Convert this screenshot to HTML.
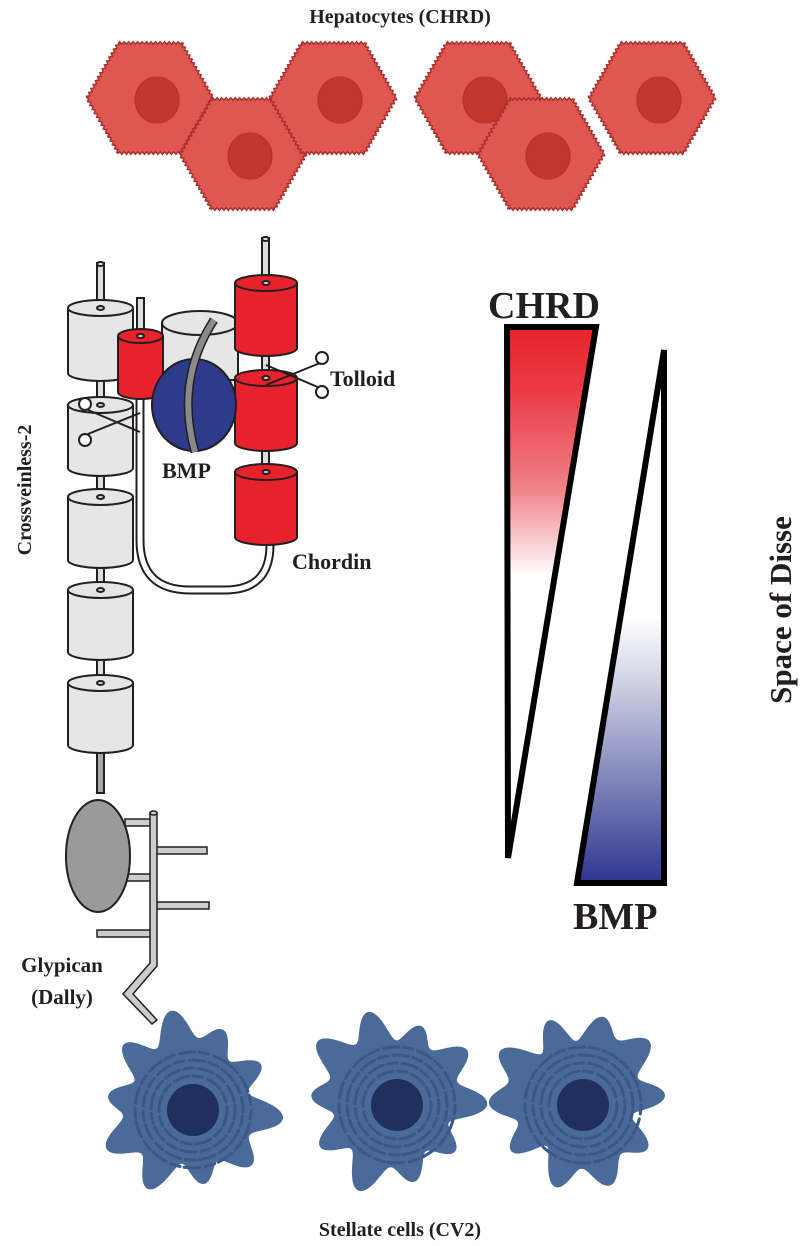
<!DOCTYPE html>
<html><head><meta charset="utf-8"><style>
html,body{margin:0;padding:0;background:#fff}
svg{display:block}
text{font-family:"Liberation Serif",serif;font-weight:bold;fill:#231f20}
</style></head><body>
<svg id="s" width="800" height="1246" viewBox="0 0 800 1246" xmlns="http://www.w3.org/2000/svg">
<defs>
<linearGradient id="gr" x1="0" y1="0" x2="0" y2="1">
<stop offset="0" stop-color="#e8222c"/><stop offset="0.12" stop-color="#ea3b45"/><stop offset="0.3" stop-color="#f07f87"/><stop offset="0.47" stop-color="#fff"/><stop offset="1" stop-color="#fff"/></linearGradient>
<linearGradient id="gb" x1="0" y1="0" x2="0" y2="1">
<stop offset="0" stop-color="#fff"/><stop offset="0.5" stop-color="#fff"/><stop offset="0.6" stop-color="#d8dbe9"/><stop offset="1" stop-color="#2e3590"/></linearGradient>
</defs>

<text x="400" y="23" font-size="20" text-anchor="middle">Hepatocytes (CHRD)</text>
<g id="hep" fill="#e05752" stroke="#a8302c" stroke-width="1.5"></g>

<g stroke="#231f20" stroke-width="2">
<rect x="97" y="263" width="7" height="40" fill="#ddd"/><ellipse cx="100.5" cy="264" rx="3.5" ry="2" fill="#eee"/>
<rect x="97" y="370" width="7" height="35" fill="#ddd"/>
<rect x="97" y="465" width="7" height="30" fill="#ddd"/>
<rect x="97" y="560" width="7" height="30" fill="#ddd"/>
<rect x="97" y="650" width="7" height="30" fill="#ddd"/>
<rect x="97" y="748" width="7" height="45" fill="#aaa"/>
</g>
<g id="graycyl" fill="#e6e6e6" stroke="#231f20" stroke-width="2"></g>

<g fill="#e6e6e6" stroke="#231f20" stroke-width="2">
<path d="M162 323 L162 380 L238 380 L238 323"/>
<ellipse cx="200" cy="323" rx="38" ry="12"/>
</g>
<path d="M140 395 L140 540 Q140 590 190 590 L225 590 Q270 590 270 545" fill="none" stroke="#231f20" stroke-width="9"/>
<path d="M140 395 L140 540 Q140 590 190 590 L225 590 Q270 590 270 545" fill="none" stroke="#fff" stroke-width="5"/>
<g stroke="#231f20" stroke-width="2">
<rect x="137" y="298" width="7" height="35" fill="#ddd"/>
<path d="M118 336 L118 392 A22.5 7 0 0 0 163 392 L163 336" fill="#e8222c"/>
<ellipse cx="140.5" cy="336" rx="22.5" ry="7" fill="#e8222c"/>
<ellipse cx="140.5" cy="336" rx="3.5" ry="2" fill="#ddd"/>
</g>
<g stroke="#231f20" stroke-width="2" fill="#ddd">
<rect x="262" y="238" width="7" height="45"/><ellipse cx="265.5" cy="239" rx="3.5" ry="2" fill="#eee"/>
<rect x="262" y="350" width="7" height="30"/>
<rect x="262" y="445" width="7" height="28"/>
</g>
<g id="redcyl" fill="#e8222c" stroke="#231f20" stroke-width="2"></g>
<ellipse cx="194" cy="405" rx="42" ry="46" fill="#2e3a8c" stroke="#231f20" stroke-width="2"/>
<path d="M214 320 Q175 380 195 452" fill="none" stroke="#231f20" stroke-width="9"/>
<path d="M214 320 Q175 380 195 452" fill="none" stroke="#8a8a8a" stroke-width="6"/>
<g stroke="#231f20" stroke-width="2" fill="#fff">
<line x1="266" y1="365" x2="320" y2="388"/><line x1="266" y1="385" x2="320" y2="363"/>
<circle cx="322" cy="358" r="6"/><circle cx="322" cy="392" r="6"/>
<line x1="140" y1="413" x2="88" y2="434"/><line x1="140" y1="432" x2="88" y2="410"/>
<circle cx="85" cy="404" r="6"/><circle cx="85" cy="440" r="6"/>
</g>
<text x="330" y="386" font-size="22">Tolloid</text>
<text x="162" y="478" font-size="22">BMP</text>
<text x="292" y="569" font-size="22">Chordin</text>
<text transform="translate(31,490) rotate(-90)" font-size="20" text-anchor="middle">Crossveinless-2</text>

<g stroke="#231f20" stroke-width="1.5" fill="#ccc">
<rect x="125" y="819" width="27" height="7"/>
<rect x="153" y="847" width="54" height="7"/>
<rect x="125" y="874" width="27" height="7"/>
<rect x="153" y="902" width="56" height="7"/>
<rect x="97" y="930" width="55" height="7"/>
<path d="M150 813 L157 813 L157 966 L133 994 L157 1020 L152 1024 L123 994 L150 963 Z"/>
<ellipse cx="153.5" cy="813" rx="3.5" ry="2"/>
</g>
<ellipse cx="98" cy="856" rx="32" ry="56" fill="#9a9a9a" stroke="#231f20" stroke-width="2"/>
<text x="62" y="972" font-size="21" text-anchor="middle">Glypican</text>
<text x="62" y="1004" font-size="21" text-anchor="middle">(Dally)</text>

<g id="stel"></g>
<text x="400" y="1236" font-size="20" text-anchor="middle">Stellate cells (CV2)</text>

<polygon points="507,327 596,327 508,858" fill="url(#gr)" stroke="#000" stroke-width="6"/>
<polygon points="664,350 664,883 577,883" fill="url(#gb)" stroke="#000" stroke-width="6"/>
<text x="488" y="318" font-size="38">CHRD</text>
<text x="573" y="929" font-size="38">BMP</text>
<text transform="translate(791,610) rotate(-90)" font-size="31" text-anchor="middle">Space of Disse</text>
</svg>
<script>
var NS="http://www.w3.org/2000/svg";
function el(p,t,a){var e=document.createElementNS(NS,t);for(var k in a)e.setAttribute(k,a[k]);p.appendChild(e);return e;}
function cyl(g,x,y,w,h){
  var r=w/2,ry=8;
  el(g,"path",{d:"M"+x+" "+y+" L"+x+" "+(y+h)+" A"+r+" "+ry+" 0 0 0 "+(x+w)+" "+(y+h)+" L"+(x+w)+" "+y});
  el(g,"ellipse",{cx:x+r,cy:y,rx:r,ry:ry});
  el(g,"ellipse",{cx:x+r,cy:y,rx:3.5,ry:2,fill:"#ddd"});
}
var gg=document.getElementById("graycyl");
[[308,65],[405,63],[497,63],[590,62],[683,62]].forEach(function(c){cyl(gg,68,c[0],65,c[1]);});
var rg=document.getElementById("redcyl");
[[283,65],[378,65],[472,65]].forEach(function(c){cyl(rg,235,c[0],62,c[1]);});
var hg=document.getElementById("hep");
[[150,98],[243,154],[333,98],[478,98],[541,154],[652,98]].forEach(function(c){
  var cx=c[0],cy=c[1],w=63,h=55,d="M";
  var pts=[[-w,0],[-w/2,-h],[w/2,-h],[w,0],[w/2,h],[-w/2,h]];
  for(var i=0;i<6;i++){var a=pts[i],b=pts[(i+1)%6];
    var len=Math.hypot(b[0]-a[0],b[1]-a[1]),nx=(b[1]-a[1])/len,ny=-(b[0]-a[0])/len;
    var N=Math.round(len/4.5);
    for(var j=0;j<N*4;j++){var t=j/(N*4);var o=1.3*Math.sin(t*N*2*Math.PI);
      var x=a[0]+(b[0]-a[0])*t+nx*o,y=a[1]+(b[1]-a[1])*t+ny*o;
      d+=(cx+x).toFixed(1)+" "+(cy+y).toFixed(1)+" L";}
  }
  d=d.slice(0,-2)+"Z";
  el(hg,"path",{d:d});
  el(hg,"ellipse",{cx:cx+7,cy:cy+2,rx:22,ry:23,fill:"#c2372f",stroke:"#b0312b","stroke-width":1});
});
var sg=document.getElementById("stel");
[[188,1105,0.3],[392,1100,1.1],[578,1100,2]].forEach(function(c){
  var cx=c[0],cy=c[1],ph=c[2],d="M";
  for(var i=0;i<=360;i++){var a=i*Math.PI/180;var r=76+12*Math.sin(10*a+ph)+6*Math.sin(3*a+ph*2)+3*Math.sin(7*a+ph);
    d+=(cx+r*Math.cos(a)).toFixed(1)+" "+(cy+r*Math.sin(a)).toFixed(1)+(i<360?" L":"");}
  el(sg,"path",{d:d+"Z",fill:"#4a6a99"});
  [34,42,50,58].forEach(function(r,k){
    el(sg,"circle",{cx:cx+5,cy:cy+5,r:r,fill:"none",stroke:"#3b5788","stroke-width":3,"stroke-dasharray":"16 4 10 5","stroke-dashoffset":k*7,"stroke-linecap":"round"});
  });
  el(sg,"circle",{cx:cx+5,cy:cy+5,r:26,fill:"#1f305e"});
});
</script>
</body></html>
